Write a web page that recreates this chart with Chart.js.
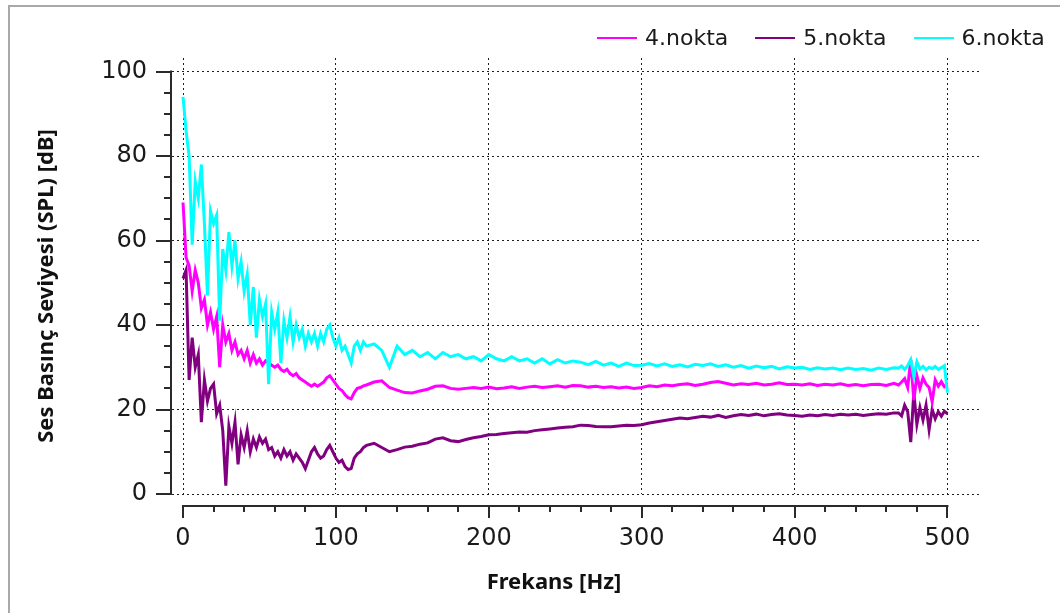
<!DOCTYPE html>
<html>
<head>
<meta charset="utf-8">
<script src="https://cdn.jsdelivr.net/npm/chart.js@4.4.1/dist/chart.umd.min.js"></script>
<style>
    body { margin: 0; background: #fff; }
    #wrap { position: relative; width: 1060px; height: 613px; overflow: hidden; }
    #frame { position: absolute; left: 8px; top: 5px; right: -10px; bottom: -10px; border-left: 2px solid #a9a9a9; border-top: 2px solid #a9a9a9; }
    #legend { position: absolute; left: 597px; top: 25px; display: flex; align-items: center; font: 22px "DejaVu Sans", sans-serif; color: #1a1a1a; }
    .leg-item { display: flex; align-items: center; margin-right: 27px; }
    .leg-line { width: 40px; height: 2px; margin-right: 8px; }
    canvas { position: absolute; left: 0; top: 0; }
</style>
</head>
<body>
<div id="wrap">
    <div id="frame"></div>
    <canvas id="chartSpl" width="1060" height="613"></canvas>
    <div id="legend"></div>
</div>
<script>
// frekans [Hz]
const freq = [
    0, 2, 4, 6, 8, 10, 12, 14, 16, 18,
    20, 22, 24, 26, 28, 30, 32, 34, 36, 38,
    40, 42, 44, 46, 48, 50, 52, 54, 56, 58,
    60, 62, 64, 66, 68, 70, 72, 74, 76, 78,
    80, 82, 84, 86, 88, 90, 92, 94, 96, 98,
    100, 102, 104, 106, 108, 110, 112, 114, 116, 118,
    120,
    125, 130, 135, 140, 145, 150, 155, 160, 165, 170,
    175, 180, 185, 190, 195, 200, 205, 210, 215, 220,
    225, 230, 235, 240, 245, 250, 255, 260, 265, 270,
    275, 280, 285, 290, 295, 300, 305, 310, 315, 320,
    325, 330, 335, 340, 345, 350, 355, 360, 365, 370,
    375, 380, 385, 390, 395, 400, 405, 410, 415, 420,
    425, 430, 435, 440, 445, 450, 455, 460, 465,
    468, 470, 472, 474, 476, 478, 480, 482, 484, 486, 488, 490, 492, 494, 496, 498, 500
];

// 4.nokta
const spl4 = [
    69, 56, 54, 48, 53, 50, 44, 46, 40, 43,
    39, 42, 30, 40, 36, 38, 34, 36, 33, 34,
    32, 34, 31, 33, 31, 32, 30.5, 31.5, 31, 30.5,
    30, 30.5, 29.5, 29, 29.5, 28.5, 28, 28.5, 27.5, 27,
    26.5, 26, 25.5, 26, 25.5, 26, 26.5, 27.5, 28, 27,
    26, 25, 24.5, 23.5, 22.8, 22.5, 24, 25, 25.2, 25.6,
    25.8,
    26.5, 26.8, 25.2, 24.6, 24, 23.9, 24.4, 24.8, 25.5, 25.6,
    25, 24.8, 25, 25.2, 25, 25.3, 24.9, 25.1, 25.4, 25,
    25.3, 25.5, 25.2, 25.4, 25.6, 25.3, 25.7, 25.6, 25.3, 25.5,
    25.2, 25.4, 25.1, 25.3, 25, 25.2, 25.6, 25.4, 25.8, 25.6,
    25.9, 26.1, 25.7, 26, 26.4, 26.6, 26.2, 25.8, 26.1, 25.9,
    26.2, 25.8, 26, 26.3, 25.9, 26, 25.8, 26.1, 25.7, 26,
    25.8, 26.1, 25.7, 25.9, 25.6, 25.9, 26, 25.7, 26.2,
    25.8, 26.5, 27.3, 25.2, 31.8, 22.2, 28, 25, 27.5, 26, 25.2, 21.8, 27, 25.5, 26.6, 25.4, 26
];

// 5.nokta
const spl5 = [
    51, 53, 27, 37, 30, 33, 17, 27, 22, 25,
    26, 19, 21, 15, 2, 16, 12, 17, 7, 14,
    11, 15, 10, 13, 11, 13.5, 12, 13, 10.5, 11,
    9, 10, 8.5, 10.5, 9, 10, 8, 9.5, 8.5, 7.5,
    6, 8, 10, 11, 9.5, 8.5, 9, 10.5, 11.5, 10,
    8.5, 7.5, 8, 6.5, 5.8, 6, 8.5, 9.5, 10, 11,
    11.5,
    12, 11, 10, 10.5, 11.1, 11.3, 11.8, 12.1, 13, 13.3,
    12.6, 12.4, 12.9, 13.3, 13.6, 14, 14.1, 14.3, 14.5, 14.7,
    14.6, 15, 15.2, 15.4, 15.6, 15.8, 15.9, 16.3, 16.2, 16,
    15.9, 15.9, 16.1, 16.3, 16.2, 16.4, 16.8, 17.1, 17.4, 17.7,
    18, 17.8, 18.1, 18.4, 18.2, 18.6, 18.1, 18.5, 18.8, 18.6,
    18.9, 18.5, 18.8, 19, 18.7, 18.6, 18.4, 18.7, 18.5, 18.8,
    18.6, 18.9, 18.7, 18.9, 18.6, 18.8, 19, 18.9, 19.2,
    19.2, 18.5, 21, 19.5, 12.3, 24, 16.5, 20.5, 17.5, 21, 15.2, 20, 17.8, 19.5, 18.4, 19.6, 19
];

// 6.nokta
const spl6 = [
    94, 86, 80, 59, 74, 70, 78, 64, 47, 67,
    64, 66, 41, 58, 53, 62, 54, 60, 51, 55,
    48, 52, 40, 49, 37, 46, 42, 45, 26, 43,
    39, 43, 31, 41, 37, 42, 36, 40, 37, 39,
    35, 38, 36, 38, 35, 38, 36, 39, 40, 37,
    35, 37, 34, 35, 33, 31, 35, 36, 34, 36,
    35,
    35.5, 34, 30, 35, 33, 34, 32.5, 33.5, 32, 33.5,
    32.5, 33, 32, 32.5, 31.5, 33, 32, 31.5, 32.5, 31.5,
    32, 31, 32, 30.8, 31.8, 31, 31.5, 31.2, 30.6, 31.4,
    30.5, 31, 30.2, 31, 30.4, 30.5, 30.9, 30.3, 30.8, 30.2,
    30.6, 30.1, 30.7, 30.4, 30.8, 30.2, 30.6, 30, 30.4, 29.8,
    30.3, 29.9, 30.2, 29.6, 30.1, 29.8, 30, 29.5, 29.9, 29.6,
    29.8, 29.4, 29.8, 29.5, 29.7, 29.3, 29.8, 29.5, 29.9,
    29.8, 30.3, 29.5, 30.4, 31.8, 27.8, 31.3, 29.6, 30.2, 29.4, 30, 29.7, 30.2, 29.5, 29.9, 30.4, 24
];

const seriesNames = ['4.nokta', '5.nokta', '6.nokta'];
const seriesColors = ['#ff00ff', '#800080', '#00ffff'];
const xTicks = [0, 100, 200, 300, 400, 500];
const yTicks = [0, 20, 40, 60, 80, 100];
const xTitle = 'Frekans [Hz]';
const yTitle = 'Ses Basınç Seviyesi (SPL) [dB]';

const series = [spl4, spl5, spl6];
const drawOrder = [1, 2, 0];

const legEl = document.getElementById('legend');
seriesNames.forEach((n, i) => {
    legEl.innerHTML += `<div class="leg-item"><div class="leg-line" style="background:${seriesColors[i]}"></div><span>${n}</span></div>`;
});

// offset axes with major / minor ticks, plus axis titles
const axisDecor = {
    id: 'axisDecor',
    afterDraw(chart) {
        const { ctx, chartArea: a, scales: { x, y } } = chart;
        ctx.save();
        ctx.strokeStyle = '#2a2a2a';
        ctx.lineWidth = 2;
        ctx.beginPath();
        const ax = a.left - 1;
        ctx.moveTo(ax, y.getPixelForValue(yTicks[0]) + 1);
        ctx.lineTo(ax, y.getPixelForValue(yTicks[yTicks.length - 1]) - 1);
        for (let v = yTicks[0]; v <= yTicks[yTicks.length - 1]; v += 5) {
            const p = Math.round(y.getPixelForValue(v));
            ctx.moveTo(ax, p);
            ctx.lineTo(ax - (v % 20 ? 7 : 15), p);
        }
        const ay = a.bottom + 12;
        ctx.moveTo(x.getPixelForValue(xTicks[0]) - 1, ay);
        ctx.lineTo(x.getPixelForValue(xTicks[xTicks.length - 1]) + 1, ay);
        for (let v = xTicks[0]; v <= xTicks[xTicks.length - 1]; v += 20) {
            const p = Math.round(x.getPixelForValue(v));
            ctx.moveTo(p, ay);
            ctx.lineTo(p, ay + (v % 100 ? 6 : 12));
        }
        ctx.stroke();

        ctx.fillStyle = '#111';
        ctx.font = 'bold 22px "Noto Sans", sans-serif';
        ctx.textAlign = 'center';
        ctx.textBaseline = 'middle';
        ctx.fillText(xTitle, 554, 583);
        ctx.translate(47, 286);
        ctx.rotate(-Math.PI / 2);
        ctx.fillText(yTitle, 0, 0);
        ctx.restore();
    }
};

const gridStyle = { color: '#1f1f1f', lineWidth: 1, drawTicks: false };
const tickFont = { family: 'DejaVu Sans', size: 24 };

new Chart(document.getElementById('chartSpl'), {
    type: 'line',
    data: {
        datasets: series.map((s, i) => ({
            label: seriesNames[i],
            data: freq.map((f, k) => ({ x: f, y: s[k] })),
            borderColor: seriesColors[i],
            backgroundColor: seriesColors[i],
            borderWidth: 3,
            pointRadius: 0,
            tension: 0,
            order: drawOrder[i]
        }))
    },
    options: {
        responsive: false,
        animation: false,
        layout: { padding: { left: 0, right: 78, top: 58, bottom: 0 } },
        plugins: { legend: { display: false }, tooltip: { enabled: false } },
        scales: {
            x: {
                type: 'linear', min: -7.2, max: 522.6,
                afterBuildTicks: s => { s.ticks = xTicks.map(v => ({ value: v })); },
                afterFit: s => { s.height = 119; },
                grid: gridStyle,
                border: { display: false, dash: [2, 3] },
                ticks: { font: tickFont, color: '#1a1a1a', padding: 30, maxRotation: 0 }
            },
            y: {
                min: 0, max: 103.2,
                afterBuildTicks: s => { s.ticks = yTicks.map(v => ({ value: v })); },
                afterFit: s => { s.width = 172; },
                grid: gridStyle,
                border: { display: false, dash: [2, 3] },
                ticks: { font: tickFont, color: '#1a1a1a', padding: 25 }
            }
        }
    },
    plugins: [axisDecor]
});
</script>
</body>
</html>
